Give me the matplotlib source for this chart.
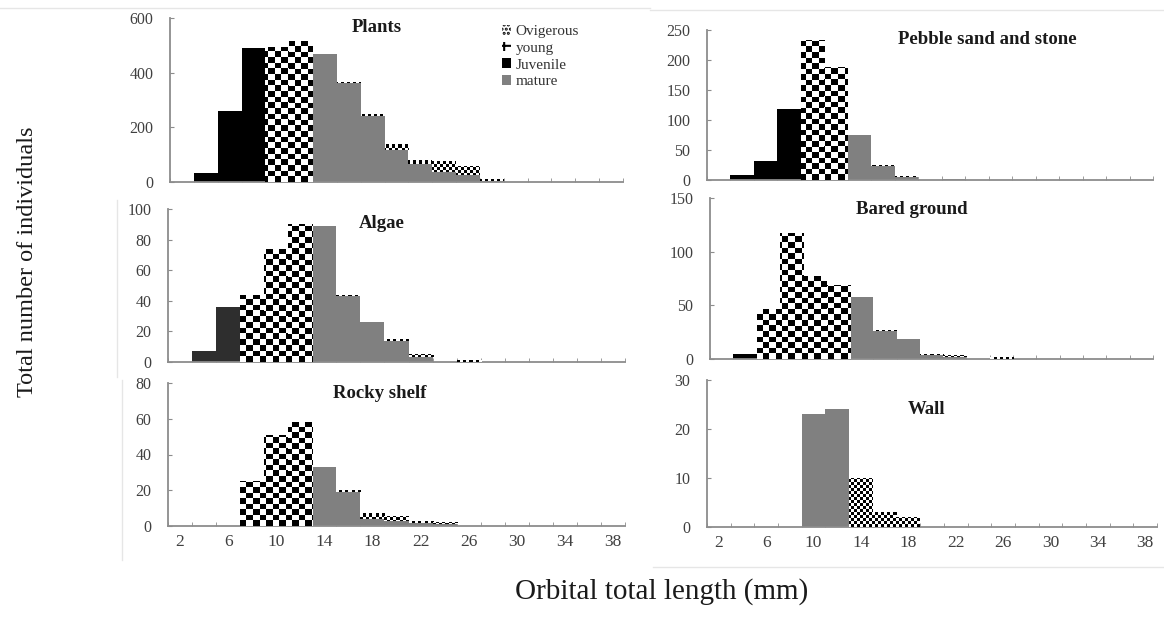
import numpy as np
import matplotlib
matplotlib.use("Agg")
import matplotlib.pyplot as plt
from matplotlib.patches import Patch
from matplotlib.lines import Line2D

plt.rcParams["font.family"] = ["Liberation Serif", "DejaVu Serif"]
plt.rcParams["hatch.linewidth"] = 1.5

# size classes (mm), 2 mm bins
lengths = [2, 4, 6, 8, 10, 12, 14, 16, 18, 20, 22, 24, 26, 28, 30, 32, 34, 36, 38]

# --- Plants
plants_juv = [0, 34, 258, 490, 0, 0, 0, 0, 0, 0, 0, 0, 0, 0, 0, 0, 0, 0, 0]
plants_young = [0, 0, 0, 0, 495, 515, 0, 0, 0, 0, 0, 0, 0, 0, 0, 0, 0, 0, 0]
plants_mature = [0, 0, 0, 0, 0, 0, 467, 362, 240, 116, 65, 38, 26, 2, 0, 0, 0, 0, 0]
plants_ovig = [0, 0, 0, 0, 0, 0, 0, 5, 8, 22, 17, 40, 32, 10, 0, 0, 0, 0, 0]

# --- Pebble sand and stone
pebble_juv = [0, 8, 32, 119, 0, 0, 0, 0, 0, 0, 0, 0, 0, 0, 0, 0, 0, 0, 0]
pebble_young = [0, 0, 0, 0, 233, 189, 0, 0, 0, 0, 0, 0, 0, 0, 0, 0, 0, 0, 0]
pebble_mature = [0, 0, 0, 0, 0, 0, 75, 23, 5, 0, 1, 0, 0, 0, 0, 0, 0, 0, 0]
pebble_ovig = [0, 0, 0, 0, 0, 0, 0, 2, 1, 0, 0, 0, 0, 0, 0, 0, 0, 0, 0]

# --- Algae
algae_juv = [0, 7, 36, 0, 0, 0, 0, 0, 0, 0, 0, 0, 0, 0, 0, 0, 0, 0, 0]
algae_young = [0, 0, 0, 44, 74, 90, 0, 0, 0, 0, 0, 0, 0, 0, 0, 0, 0, 0, 0]
algae_mature = [0, 0, 0, 0, 0, 0, 89, 43, 26, 14, 3, 0, 0, 0, 0, 0, 0, 0, 0]
algae_ovig = [0, 0, 0, 0, 0, 0, 0, 1, 0, 1, 2, 0, 1, 0, 0, 0, 0, 0, 0]

# --- Bared ground
bared_juv = [0, 5, 0, 0, 0, 0, 0, 0, 0, 0, 0, 0, 0, 0, 0, 0, 0, 0, 0]
bared_young = [0, 0, 47, 117, 77, 69, 0, 0, 0, 0, 0, 0, 0, 0, 0, 0, 0, 0, 0]
bared_mature = [0, 0, 0, 0, 0, 0, 58, 26, 19, 4, 2, 0, 0, 0, 0, 0, 0, 0, 0]
bared_ovig = [0, 0, 0, 0, 0, 0, 0, 1, 0, 1, 2, 0, 2, 0, 0, 0, 0, 0, 0]

# --- Rocky shelf
rocky_juv = [0] * 19
rocky_young = [0, 0, 0, 25, 51, 58, 0, 0, 0, 0, 0, 0, 0, 0, 0, 0, 0, 0, 0]
rocky_mature = [0, 0, 0, 0, 0, 0, 33, 19, 4, 3, 1.5, 1, 0, 0, 0, 0, 0, 0, 0]
rocky_ovig = [0, 0, 0, 0, 0, 0, 0, 1, 3, 2.5, 1.5, 1.5, 0, 0, 0, 0, 0, 0, 0]

# --- Wall
wall_juv = [0] * 19
wall_young = [0] * 19
wall_mature = [0, 0, 0, 0, 23, 24, 0, 0, 0, 0, 0, 0, 0, 0, 0, 0, 0, 0, 0]
wall_ovig = [0, 0, 0, 0, 0, 0, 10, 3, 2, 0, 0, 0, 0, 0, 0, 0, 0, 0, 0]

W, H = 1164, 634
fig = plt.figure(figsize=(W / 100, H / 100), dpi=100)


def fpos(l, r, t, b):
    return [l / W, 1 - b / H, (r - l) / W, (b - t) / H]


panels = [
    # title, juv, young, mature, ovig, ymax, ystep, rect(px), title xy (px), juv colour
    ("Plants", plants_juv, plants_young, plants_mature, plants_ovig, 600, 200,
     (170, 623, 18, 182), (377, 28), "black"),
    ("Pebble sand and stone", pebble_juv, pebble_young, pebble_mature, pebble_ovig, 250, 50,
     (707, 1153, 30, 180), (987, 40), "black"),
    ("Algae", algae_juv, algae_young, algae_mature, algae_ovig, 100, 20,
     (168, 625, 209, 362), (382, 223), "#2e2e2e"),
    ("Bared ground", bared_juv, bared_young, bared_mature, bared_ovig, 150, 50,
     (710, 1153, 198, 359), (912, 210), "black"),
    ("Rocky shelf", rocky_juv, rocky_young, rocky_mature, rocky_ovig, 80, 20,
     (168, 625, 383, 526), (380, 394), "black"),
    ("Wall", wall_juv, wall_young, wall_mature, wall_ovig, 30, 10,
     (707, 1157, 380, 527), (927, 410), "black"),
]


def texture(ax, bars, rect, cw, ch, zorder):
    # checker texture in pixel-ish cells, clipped to each bar
    l, r, t, b = rect
    nx = max(1, int((r - l) / cw))
    ny = max(1, int((b - t) / ch))
    arr = (np.add.outer(np.arange(ny), np.arange(nx)) % 2).astype(float)
    for bar in bars:
        if bar.get_height() <= 0:
            continue
        im = ax.imshow(arr, cmap="gray", vmin=0, vmax=1, extent=[0, 1, 0, 1],
                       transform=ax.transAxes, interpolation="nearest",
                       aspect="auto", zorder=zorder)
        im.set_clip_path(bar)


x = np.arange(len(lengths))
axis_col = "#8c8c8c"
tick_col = "#404040"

for i, (title, juv, young, mature, ovig, ymax, ystep, rect, tpos, jcol) in enumerate(panels):
    ax = fig.add_axes(fpos(*rect))
    juv = np.array(juv, float)
    young = np.array(young, float)
    mature = np.array(mature, float)
    ovig = np.array(ovig, float)

    ax.bar(x, juv, width=1.0, color=jcol, linewidth=0, zorder=2)
    yb = ax.bar(x, young, width=1.0, bottom=juv, color="white", linewidth=0, zorder=2)
    ax.bar(x, mature, width=1.0, bottom=juv + young, color="#808080", linewidth=0, zorder=2)
    ob = ax.bar(x, ovig, width=1.0, bottom=juv + young + mature, color="white",
                linewidth=0, zorder=2)
    texture(ax, yb, rect, 6.5, 5.5, 3)
    texture(ax, ob, rect, 3, 3, 3)

    ax.set_xlim(-0.5, len(lengths) - 0.5)
    ax.set_ylim(0, ymax)
    ax.set_autoscale_on(False)

    for s in ["top", "right"]:
        ax.spines[s].set_visible(False)
    for s in ["left", "bottom"]:
        ax.spines[s].set_color(axis_col)
        ax.spines[s].set_linewidth(1.3)

    ax.set_yticks(np.arange(0, ymax + 1, ystep))
    ax.tick_params(axis="y", direction="in", length=3, color=axis_col,
                   labelsize=11.5, labelcolor=tick_col, pad=12)

    ax.set_xticks(x[::2])
    ax.set_xticks(np.arange(-0.5, len(lengths)), minor=True)
    ax.tick_params(axis="x", which="major", length=0, labelsize=12.5,
                   labelcolor=tick_col, pad=6)
    ax.tick_params(axis="x", which="minor", direction="in", length=3,
                   color=axis_col)
    if i >= 4:
        ax.set_xticklabels([str(v) for v in lengths[::2]])
    else:
        ax.set_xticklabels([])

    fig.text(tpos[0] / W, 1 - tpos[1] / H, title, ha="center", va="center",
             fontsize=13.5, fontweight="bold", color="#1a1a1a")

    if i == 0:
        handles = [
            Patch(facecolor="white", edgecolor="black", linewidth=0, hatch="...."),
            Patch(facecolor="white", edgecolor="black", linewidth=0, hatch="++"),
            Patch(facecolor="black", edgecolor="none"),
            Patch(facecolor="#808080", edgecolor="none"),
        ]
        ax.legend(handles, ["Ovigerous", "young", "Juvenile", "mature"],
                  loc="upper left", bbox_to_anchor=((488 - 170) / 453, 1.04),
                  frameon=False, fontsize=11, handlelength=0.6, handleheight=0.6,
                  handletextpad=0.3, labelspacing=0.22, labelcolor="#333333")

# faint frame lines of the original composite
for (x0, x1, y0, y1) in [(0, 650, 8, 8), (650, 1164, 10, 10),
                         (117, 117, 200, 377), (653, 1164, 567, 567),
                         (122, 122, 380, 560)]:
    fig.add_artist(Line2D([x0 / W, x1 / W], [1 - y0 / H, 1 - y1 / H],
                          color="#e6e6e6", linewidth=1))

fig.text(28 / W, 1 - 262 / H, "Total number of individuals", rotation=90,
         ha="center", va="center", fontsize=17.5, color="#1a1a1a")
fig.text(662 / W, 1 - 592 / H, "Orbital total length (mm)", ha="center",
         va="center", fontsize=21, color="#1a1a1a")

fig.savefig("out.png", dpi=100)
